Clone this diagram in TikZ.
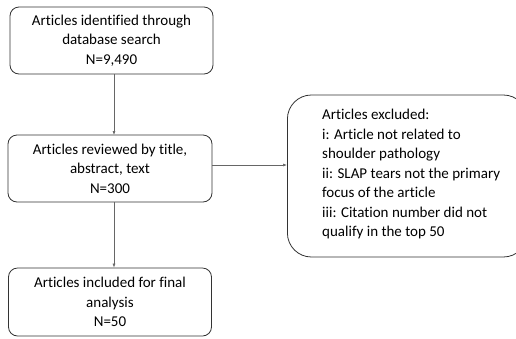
\documentclass[tikz,border=0pt]{standalone}
\usepackage{fontspec}
\setmainfont{Carlito}[Ligatures={NoCommon}]
\usetikzlibrary{arrows.meta}
\begin{document}
\begin{tikzpicture}[x=1pt,y=-1pt,
  box/.style={draw=black!80, line width=0.8pt, rounded corners=9pt, align=center, font=\fontsize{15}{19.5}\selectfont, inner sep=0pt},
  ebox/.style={draw=black!80, line width=0.8pt, rounded corners=24pt, align=left, font=\fontsize{15}{19.5}\selectfont, inner sep=0pt},
  conn/.style={draw=black!60, line width=0.6pt, -{Latex[length=4pt,width=3pt]}}]
\useasboundingbox (0,0) rectangle (516,338);
\node[box, minimum width=203pt, minimum height=67pt] (a) at (111.5,40.5) {Articles identified through\\database search\\N=9,490};
\node[box, minimum width=204pt, minimum height=67pt] (b) at (110,168.5) {Articles reviewed by title,\\abstract, text\\N=300};
\node[box, minimum width=203pt, minimum height=68pt] (c) at (110,302) {Articles included for final\\analysis\\N=50};
\node[ebox, minimum width=240pt, minimum height=162pt, anchor=west] (d) at (287,176) {};
\node[anchor=north west, align=left, font=\fontsize{15}{19.5}\selectfont, inner sep=0pt] (dt) at (322,109) {Articles excluded:\\i: Article not related to\\shoulder pathology\\ii: SLAP tears not the primary\\focus of the article\\iii: Citation number did not\\qualify in the top 50};
\coordinate (atop) at (114,135);
\draw[conn] (a.south -| atop) -- (atop);
\draw[conn] (b.south -| atop) -- (c.north -| atop);
\draw[conn] (b.east |- 0,165) -- (d.west |- 0,165);
\end{tikzpicture}
\end{document}
